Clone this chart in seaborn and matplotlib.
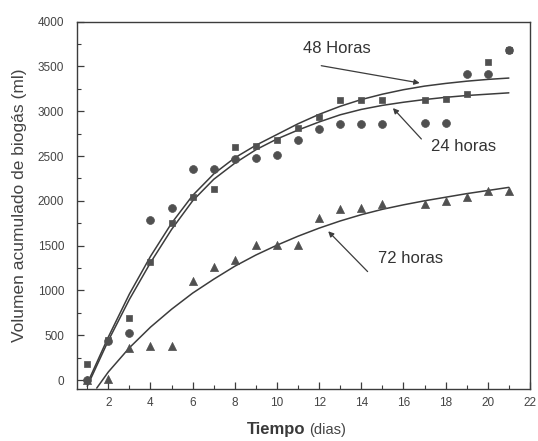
import matplotlib
matplotlib.use("Agg")
import numpy as np
import pandas as pd
import seaborn as sns
import matplotlib.pyplot as plt
from matplotlib.ticker import MultipleLocator

# medidas (dias)
dias = [1, 2, 3, 4, 5, 6, 7, 8, 9, 10, 11, 12, 13, 14, 15, 17, 18, 19, 20, 21]
cuadrados = [179, 450, 689, 1322, 1750, 2040, 2130, 2600, 2615, 2682,
             2812, 2935, 3121, 3121, 3121, 3128, 3136, 3196, 3546, 3680]
circulos = [0, 440, 521, 1788, 1918, 2360, 2360, 2470, 2475, 2510,
            2675, 2800, 2857, 2857, 2857, 2868, 2868, 3419, 3419, 3680]
triangulos = [0, 10, 354, 384, 384, 1110, 1266, 1341, 1508, 1510,
              1508, 1806, 1911, 1918, 1966, 1966, 1993, 2041, 2104, 2115]

# curvas ajustadas
curva_dias = [1, 2, 3, 4, 5, 6, 7, 8, 9, 10, 11, 12, 13, 14, 15, 16, 17, 18, 19, 20, 21]
curva_48h = [-40, 480, 960, 1380, 1750, 2060, 2300, 2480, 2620, 2740, 2860,
             2965, 3055, 3130, 3190, 3240, 3280, 3310, 3335, 3355, 3370]
curva_24h = [-70, 440, 900, 1310, 1680, 2000, 2240, 2420, 2570, 2690, 2790,
             2880, 2960, 3020, 3065, 3100, 3130, 3155, 3175, 3190, 3205]
curva72_dias = [1.45, 2, 3, 4, 5, 6, 7, 8, 9, 10, 11, 12, 13, 14, 15, 16, 17, 18, 19, 20, 21]
curva_72h = [-90, 90, 360, 590, 790, 970, 1125, 1270, 1395, 1505, 1605, 1695,
             1775, 1845, 1905, 1955, 2000, 2040, 2080, 2115, 2150]

sns.set_style("ticks")
plt.rcParams['font.family'] = ['Liberation Sans', 'DejaVu Sans']

fig = plt.figure(figsize=(5.38, 4.41), dpi=100)
ax = fig.add_axes([0.1426, 0.118, 0.8424, 0.833])

gris = '#3c3c3c'
marca = '#505050'

sns.lineplot(x=curva_dias, y=curva_48h, ax=ax, color=gris, lw=1.1, sort=False, estimator=None)
sns.lineplot(x=curva_dias, y=curva_24h, ax=ax, color=gris, lw=1.1, sort=False, estimator=None)
sns.lineplot(x=curva72_dias, y=curva_72h, ax=ax, color=gris, lw=1.1, sort=False, estimator=None)

sns.scatterplot(x=dias, y=circulos, ax=ax, marker='o', s=32, color=marca, edgecolor=marca, linewidth=0.5, zorder=3)
sns.scatterplot(x=dias, y=cuadrados, ax=ax, marker='s', s=22, color=marca, edgecolor=marca, linewidth=0.5, zorder=3)
sns.scatterplot(x=dias, y=triangulos, ax=ax, marker='^', s=34, color=marca, edgecolor=marca, linewidth=0.5, zorder=3)

ax.set_xlim(0.5, 22)
ax.set_ylim(-100, 4000)
ax.xaxis.set_major_locator(MultipleLocator(2))
ax.xaxis.set_minor_locator(MultipleLocator(1))
ax.yaxis.set_major_locator(MultipleLocator(500))
ax.yaxis.set_minor_locator(MultipleLocator(250))
ax.tick_params(which='both', direction='in', colors=gris, labelcolor='#444444', labelsize=8.5)
ax.tick_params(which='major', length=5, width=0.9)
ax.tick_params(which='minor', length=3, width=0.8)
ax.tick_params(axis='y', pad=9)
ax.tick_params(axis='x', pad=6)
ax.set_xticks([2, 4, 6, 8, 10, 12, 14, 16, 18, 20, 22])
for s in ax.spines.values():
    s.set_color(gris)
    s.set_linewidth(1.0)

ax.set_ylabel('Volumen acumulado de biogás (ml)', fontsize=12.5, color='#444444', labelpad=8)
ax.set_xlabel('')
fig.text(0.568, 0.015, 'Tiempo', fontsize=12, fontweight='bold', color='#3a3a3a', ha='right', va='baseline')
fig.text(0.574, 0.015, '(dias)', fontsize=10.5, color='#444444', ha='left', va='baseline')

flecha = dict(arrowstyle='-|>', color=gris, lw=0.9, mutation_scale=8, shrinkA=0, shrinkB=0)
ax.annotate('', xy=(16.77, 3315), xytext=(12.1, 3508), arrowprops=flecha)
ax.text(12.82, 3695, '48 Horas', fontsize=12, color='#333333', ha='center', va='center')
ax.annotate('', xy=(15.5, 3035), xytext=(16.85, 2690), arrowprops=flecha)
ax.text(18.85, 2607, '24 horas', fontsize=12, color='#333333', ha='center', va='center')
ax.annotate('', xy=(12.43, 1660), xytext=(14.3, 1210), arrowprops=flecha)
ax.text(16.35, 1360, '72 horas', fontsize=12, color='#333333', ha='center', va='center')

fig.savefig('out.png', dpi=100)
